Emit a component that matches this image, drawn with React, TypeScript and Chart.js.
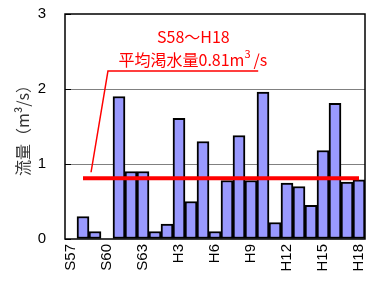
import React, { useEffect, useRef } from "react";
import { Chart, registerables } from "chart.js";

Chart.register(...registerables);

const categories = [
  "S57", "S58", "S59", "S60", "S61", "S62", "S63",
  "H1", "H2", "H3", "H4", "H5", "H6", "H7", "H8", "H9",
  "H10", "H11", "H12", "H13", "H14", "H15", "H16", "H17", "H18",
];
const flow = [
  0, 0.3, 0.1, 0, 1.9, 0.9, 0.9,
  0.1, 0.2, 1.61, 0.5, 1.3, 0.1, 0.78, 1.38, 0.78,
  1.96, 0.22, 0.745, 0.7, 0.45, 1.18, 1.81, 0.76, 0.79,
];
const meanFlow = 0.81;
const meanStart = "S58";
const yTicks = [0, 1, 2, 3];
const annotationLine1 = "S58～H18";
const annotationLine2 = "平均渇水量0.81m";
const annotationSup = "3";
const annotationTail = "/s";

const LATIN = "'Liberation Sans', Arial, sans-serif";
const CJK = "'Noto Sans CJK JP', 'Liberation Sans', sans-serif";

const framePlugin = {
  id: "frameAndNote",
  afterDraw(chart: any) {
    const { ctx, chartArea, scales } = chart;
    const x = scales.x;
    const y = scales.y;
    ctx.save();
    ctx.strokeStyle = "#000";
    ctx.lineWidth = 1;
    for (const v of yTicks) {
      const py = Math.round(y.getPixelForValue(v)) + 0.5;
      ctx.beginPath();
      ctx.moveTo(chartArea.left, py);
      ctx.lineTo(chartArea.left + 6, py);
      ctx.stroke();
    }
    ctx.lineWidth = 1.5;
    ctx.strokeRect(chartArea.left, chartArea.top, chartArea.right - chartArea.left, chartArea.bottom - chartArea.top);

    ctx.fillStyle = "#ff0000";
    ctx.strokeStyle = "#ff0000";
    ctx.textBaseline = "middle";
    ctx.textAlign = "center";
    ctx.font = `16px ${CJK}`;
    const cx = x.getPixelForValue(10.2);
    ctx.fillText(annotationLine1, cx, y.getPixelForValue(2.7));
    const l2y = y.getPixelForValue(2.39);
    const w1 = ctx.measureText(annotationLine2).width;
    ctx.font = `11px ${CJK}`;
    const w2 = ctx.measureText(annotationSup).width;
    ctx.font = `16px ${CJK}`;
    const w3 = ctx.measureText(annotationTail).width + 4;
    const total = w1 + w2 + w3;
    let sx = cx - total / 2;
    ctx.textAlign = "left";
    ctx.fillText(annotationLine2, sx, l2y);
    sx += w1;
    ctx.font = `11px ${CJK}`;
    ctx.fillText(annotationSup, sx, l2y - 6);
    sx += w2 + 3;
    ctx.font = `16px ${CJK}`;
    ctx.fillText(annotationTail, sx, l2y);

    ctx.lineWidth = 1.5;
    ctx.beginPath();
    ctx.moveTo(x.getPixelForValue(15.6), y.getPixelForValue(2.24));
    ctx.lineTo(x.getPixelForValue(3.08), y.getPixelForValue(2.24));
    ctx.lineTo(x.getPixelForValue(1.67), y.getPixelForValue(0.89));
    ctx.stroke();
    ctx.restore();
  },
};

export default function App() {
  const ref = useRef<HTMLCanvasElement>(null);
  useEffect(() => {
    const startIdx = categories.indexOf(meanStart);
    const meanData = categories.map((_, i) => (i >= startIdx ? meanFlow : null));
    const chart = new Chart(ref.current!, {
      type: "bar",
      data: {
        labels: categories,
        datasets: [
          {
            type: "line",
            data: meanData,
            borderColor: "#ff0000",
            borderWidth: 4,
            pointRadius: 0,
            order: 0,
          } as any,
          {
            type: "bar",
            data: flow,
            backgroundColor: "#9999ff",
            borderColor: "#000000",
            borderWidth: 2,
            borderSkipped: false,
            barPercentage: 1,
            categoryPercentage: 1,
            order: 1,
          },
        ],
      },
      options: {
        responsive: false,
        animation: false,
        layout: { padding: { top: 14, right: 2, left: 0, bottom: 0 } },
        plugins: { legend: { display: false }, tooltip: { enabled: false } },
        scales: {
          x: {
            grid: { display: false, drawTicks: false },
            border: { display: false },
            ticks: {
              autoSkip: false,
              minRotation: 90,
              maxRotation: 90,
              padding: 5,
              color: "#000",
              font: { family: LATIN, size: 15 },
              callback: (_v: any, i: number) => (i % 3 === 0 ? categories[i] : ""),
            },
            afterFit: (s: any) => {
              s.height = 44;
              s.paddingLeft = 0;
              s.paddingRight = 0;
            },
          },
          y: {
            min: 0,
            max: 3,
            grid: {
              drawTicks: false,
              color: (c: any) => (c.tick && (c.tick.value === 1 || c.tick.value === 2) ? "#808080" : "rgba(0,0,0,0)"),
              lineWidth: 1,
            },
            border: { display: false },
            ticks: {
              stepSize: 1,
              padding: 19,
              color: "#000",
              font: { family: LATIN, size: 15 },
            },
            title: {
              display: true,
              text: "流量（m³/s）",
              color: "#333",
              font: { family: CJK, size: 16 },
              padding: { top: 13, bottom: 0 },
            },
            afterFit: (s: any) => {
              s.width = 65;
              s.paddingTop = 0;
              s.paddingBottom = 0;
            },
          },
        },
      },
      plugins: [framePlugin],
    });
    return () => chart.destroy();
  }, []);
  return (
    <div style={{ position: "fixed", left: 0, top: 0, width: 367, height: 283, background: "#fff" }}>
      <canvas ref={ref} width={367} height={283} />
    </div>
  );
}
